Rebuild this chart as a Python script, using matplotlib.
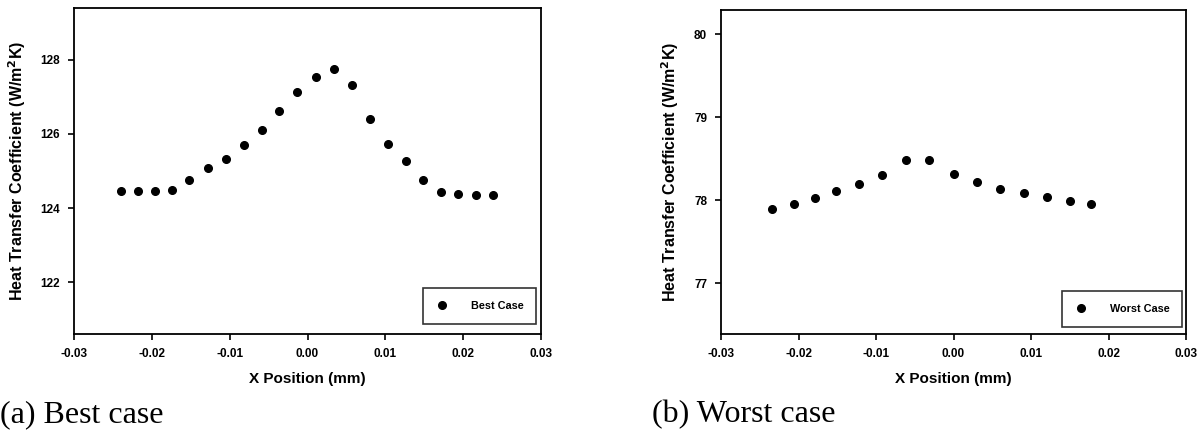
import matplotlib.pyplot as plt

plt.rcParams['font.family'] = ['Liberation Sans', 'DejaVu Sans']

# best case
best_x = [-0.0240, -0.0218, -0.0196, -0.0174, -0.0152, -0.0128, -0.0105, -0.0082,
          -0.0059, -0.0036, -0.0013, 0.0011, 0.0034, 0.0057, 0.0080, 0.0103,
          0.0126, 0.0149, 0.0172, 0.0194, 0.0216, 0.0238]
best_h = [124.45, 124.45, 124.47, 124.49, 124.76, 125.09, 125.33, 125.69,
          126.10, 126.62, 127.13, 127.53, 127.76, 127.33, 126.40, 125.72,
          125.26, 124.76, 124.44, 124.38, 124.36, 124.35]

# worst case
worst_x = [-0.0234, -0.0206, -0.0179, -0.0151, -0.0122, -0.0092, -0.0061, -0.0031,
           0.0000, 0.0030, 0.0060, 0.0091, 0.0120, 0.0150, 0.0178]
worst_h = [77.90, 77.95, 78.03, 78.11, 78.20, 78.30, 78.48, 78.49,
           78.31, 78.22, 78.14, 78.09, 78.04, 77.99, 77.95]

xticks = [-0.03, -0.02, -0.01, 0.00, 0.01, 0.02, 0.03]

fig = plt.figure(figsize=(12.03, 4.34), dpi=100)
ax1 = fig.add_axes([74/1203, 1 - 334/434, 467/1203, 326/434])
ax2 = fig.add_axes([721/1203, 1 - 334/434, 465/1203, 324/434])


def style(ax, x, y, label, ylim, yticks, legend_box):
    ax.plot(x, y, 'o', color='black', markersize=5.5, label=label)
    ax.set_xlim(-0.03, 0.03)
    ax.set_ylim(*ylim)
    ax.set_xticks(xticks)
    ax.set_xticklabels([f'{t:.2f}' for t in xticks], fontweight='bold', fontsize=8.5)
    ax.set_yticks(yticks)
    ax.set_yticklabels([str(t) for t in yticks], fontweight='bold', fontsize=8.5)
    ax.tick_params(direction='out', length=4, width=1.2, pad=6)
    for s in ax.spines.values():
        s.set_linewidth(1.3)
    ax.set_xlabel('X Position (mm)', fontsize=11, fontweight='bold', labelpad=9)
    ax.set_ylabel('Heat Transfer Coefficient (W/m$^\\mathbf{2}$K)', fontsize=11.5,
                  fontweight='bold', labelpad=9)
    leg = ax.legend(loc='lower right', bbox_to_anchor=legend_box, frameon=True,
                    fancybox=False, edgecolor='black', prop={'weight': 'bold', 'size': 7.8},
                    borderpad=1.2, handlelength=1.2, handletextpad=2.0,
                    borderaxespad=0.0)
    leg.get_frame().set_linewidth(1.2)


style(ax1, best_x, best_h, 'Best Case', (120.6, 129.4), [122, 124, 126, 128],
      (0.99, 0.03))
style(ax2, worst_x, worst_h, 'Worst Case', (76.39, 80.29), [77, 78, 79, 80],
      (0.992, 0.022))

fig.text(0.0, 1 - 415/434, '(a) Best case', family='Liberation Serif', fontsize=23,
         va='center', ha='left')
fig.text(652/1203, 1 - 415/434, '(b) Worst case', family='Liberation Serif', fontsize=23,
         va='center', ha='left')

fig.savefig('out.png', dpi=100)
